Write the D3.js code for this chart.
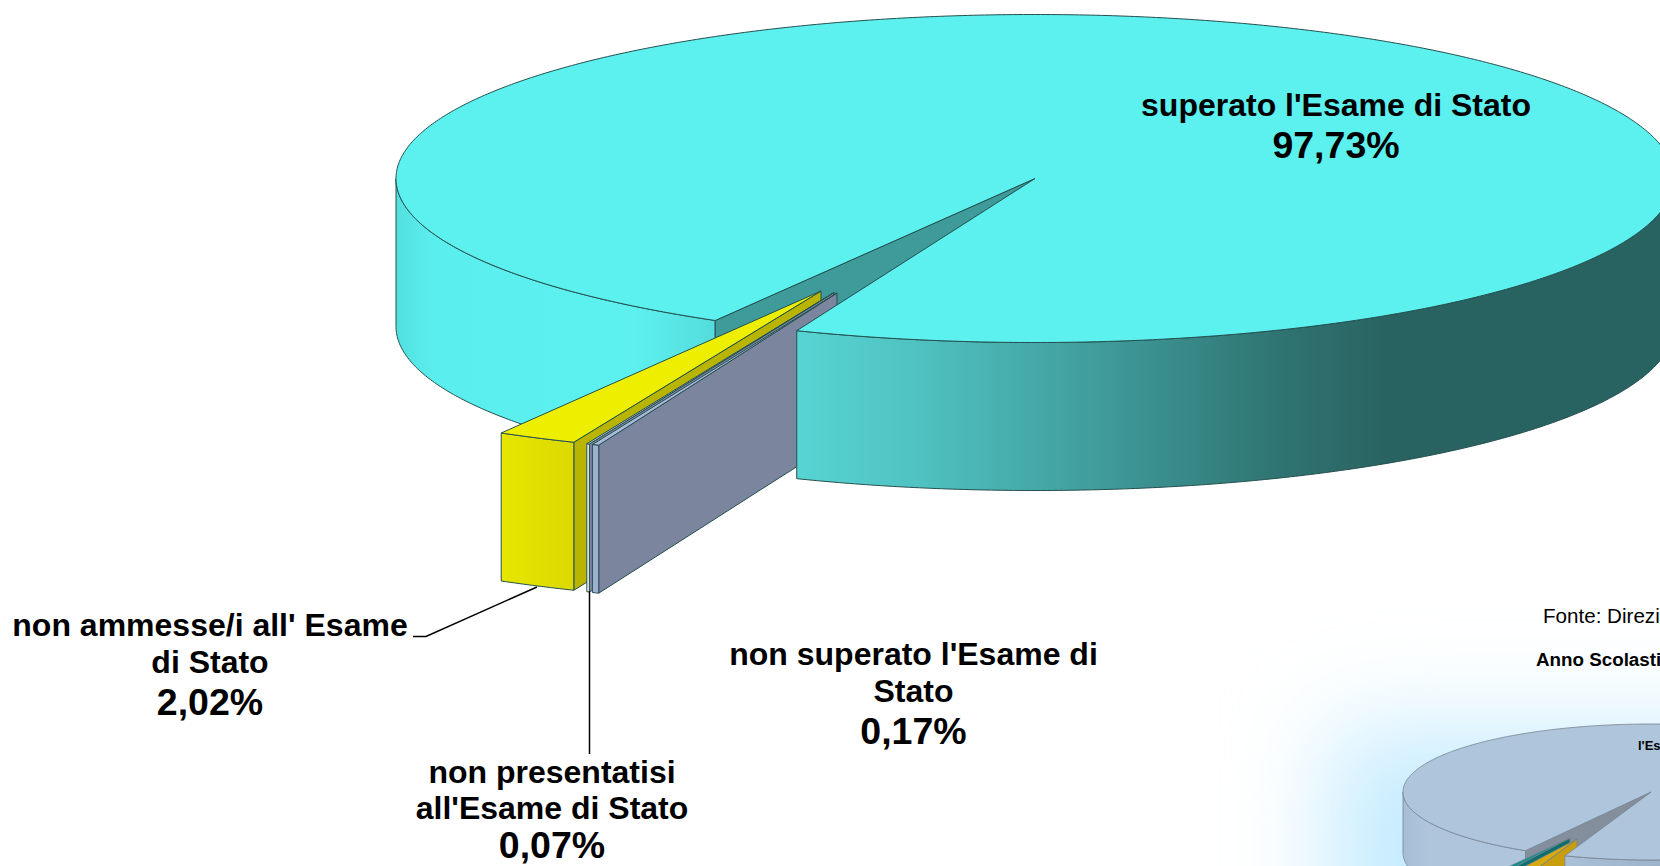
<!DOCTYPE html>
<html>
<head>
<meta charset="utf-8">
<script src="https://d3js.org/d3.v7.min.js"></script>
<style>
    html, body { margin: 0; padding: 0; background: #fff; overflow: hidden; }
    text { font-family: "Liberation Sans", Arial, sans-serif; fill: #000; }
</style>
</head>
<body>
<div id="chart"></div>
<script>
// main pie, clockwise from the main slice
const categories = ["superato l'Esame di Stato", "non superato l'Esame di Stato", "non presentatisi all'Esame di Stato", "non ammesse/i all' Esame di Stato"];
const values = [97.73, 0.17, 0.07, 2.02];
const valueLabels = ["97,73%", "0,17%", "0,07%", "2,02%"];

// small pie cut off in the corner of the page (values estimated)
const insetCategories = ["l'Esame", "altri", "non ammesse"];
const insetValues = [97.2, 2.0, 0.8];

const width = 1660, height = 866;
const deg = Math.PI / 180;

const svg = d3.select("#chart").append("svg")
    .attr("width", width)
    .attr("height", height)
    .style("display", "block");

const defs = svg.append("defs");

function addGradient(id, x1, x2, stops) {
    const g = defs.append("linearGradient")
        .attr("id", id)
        .attr("gradientUnits", "userSpaceOnUse")
        .attr("x1", x1).attr("x2", x2)
        .attr("y1", 0).attr("y2", 0);
    stops.forEach(s => g.append("stop").attr("offset", s[0]).attr("stop-color", s[1]));
}

addGradient("mainLeft", 396, 715, [[0, "#52e0df"], [0.12, "#5beeee"], [0.75, "#5cf0ef"], [1, "#55dcdc"]]);
addGradient("mainRight", 797, 1400, [[0, "#56d4d3"], [0.2, "#4fc2c1"], [0.5, "#3f9c9b"], [0.8, "#2f7472"], [0.98, "#296361"], [1, "#296361"]]);
addGradient("yellowFront", 501, 574, [[0, "#e6e600"], [1, "#dbd900"]]);
addGradient("insetLeft", 1403, 1527, [[0, "#a6bdd5"], [0.2, "#aec5dc"], [1, "#aec5dc"]]);
addGradient("insetRight", 1565, 1660, [[0, "#a9c0d7"], [1, "#9db3c9"]]);

// soft blue glow behind the small pie
defs.append("filter")
    .attr("id", "glow")
    .attr("x", "-50%").attr("y", "-50%").attr("width", "200%").attr("height", "200%")
    .append("feGaussianBlur")
    .attr("stdDeviation", 50);

svg.append("rect")
    .attr("x", 1330).attr("y", 730)
    .attr("width", 500).attr("height", 300)
    .attr("fill", "#c4ebff")
    .attr("filter", "url(#glow)");

const line = d3.line();

// projects a pie angle onto the tilted ellipse
function rimPoint(p, a, off, drop) {
    return [
        p.cx + off[0] + p.rx * Math.sin(a),
        p.cy + off[1] - p.ry * Math.cos(a) + (drop || 0)
    ];
}

function rimPoints(p, a0, a1, off, drop) {
    const n = Math.max(2, Math.ceil(Math.abs(a1 - a0) / deg) * 2);
    return d3.range(n + 1).map(i => rimPoint(p, a0 + (a1 - a0) * i / n, off, drop));
}

function sectorPath(p, a0, a1, off) {
    return line([[p.cx + off[0], p.cy + off[1]]].concat(rimPoints(p, a0, a1, off))) + "Z";
}

function wallPath(p, a0, a1, off) {
    return line(rimPoints(p, a0, a1, off).concat(rimPoints(p, a1, a0, off, p.depth))) + "Z";
}

function cutPath(p, a, off) {
    const top = [p.cx + off[0], p.cy + off[1]];
    const rim = rimPoint(p, a, off);
    return line([top, rim, [rim[0], rim[1] + p.depth], [top[0], top[1] + p.depth]]) + "Z";
}

function drawPie(p) {
    const g = svg.append("g")
        .attr("stroke", p.stroke)
        .attr("stroke-width", p.strokeWidth)
        .attr("stroke-linejoin", "round");

    const arcs = d3.pie().sort(null)
        .startAngle(p.start * deg)
        .endAngle((p.start + 360) * deg)(p.values);

    const main = arcs[0];
    const noOffset = [0, 0];

    // back part of the main slice: left wall and the inside of the cut
    g.append("path").attr("d", wallPath(p, main.startAngle, 270 * deg, noOffset)).attr("fill", p.leftWall);
    g.append("path").attr("d", cutPath(p, main.startAngle, noOffset)).attr("fill", p.cutWall);

    // pulled out slices, the last one is the furthest back
    arcs.slice(1).reverse().forEach(d => {
        const i = d.index;
        const off = p.offsets[i];
        const c = p.colors[i];
        g.append("path").attr("d", cutPath(p, d.startAngle - 2 * Math.PI, off)).attr("fill", c.side);
        g.append("path").attr("d", wallPath(p, d.startAngle, d.endAngle, off)).attr("fill", c.front);
        g.append("path").attr("d", sectorPath(p, d.startAngle, d.endAngle, off)).attr("fill", c.top);
    });

    // front wall and top of the main slice go over everything
    g.append("path").attr("d", wallPath(p, 90 * deg, main.endAngle - 2 * Math.PI, noOffset)).attr("fill", p.rightWall);
    g.append("path").attr("d", sectorPath(p, main.startAngle, main.endAngle, noOffset)).attr("fill", p.top);
}

drawPie({
    values: values,
    cx: 1035, cy: 178.5, rx: 639, ry: 164, depth: 148,
    start: 210.03,
    stroke: "#24504f", strokeWidth: 1,
    top: "#5cf0ef",
    cutWall: "#3f9a9a",
    leftWall: "url(#mainLeft)",
    rightWall: "url(#mainRight)",
    offsets: [null, [-198, 114.5], [-201, 114], [-214, 112.5]],
    colors: [
        null,
        {top: "#a9b8d8", front: "#9fb0d3", side: "#7b869e"},
        {top: "#c5cfe6", front: "#eef1f7", side: "#7b869e"},
        {top: "#eeee00", front: "url(#yellowFront)", side: "#b8b400"}
    ]
});

drawPie({
    values: insetValues,
    cx: 1651, cy: 792, rx: 248, ry: 68, depth: 61,
    start: 210.4,
    stroke: "#76838f", strokeWidth: 0.8,
    top: "#aec5dc",
    cutWall: "#848f9e",
    leftWall: "url(#insetLeft)",
    rightWall: "url(#insetRight)",
    offsets: [null, [-74, 47], [-81, 46]],
    colors: [
        null,
        {top: "#d8a90f", front: "#d8a90f", side: "#c99e0e"},
        {top: "#0c8f8f", front: "#0c8f8f", side: "#0d6e6e"}
    ]
});

// leader lines
const leaders = svg.append("g")
    .attr("fill", "none")
    .attr("stroke", "#000")
    .attr("stroke-width", 1.5);
leaders.append("path").attr("d", line([[537, 587], [426, 636.5], [413, 636.5]]));
leaders.append("path").attr("d", line([[589.5, 591], [589.5, 754]]));

// labels: centre x, baselines for each line of the name and the value
function addLabel(lines, value, x, ys) {
    lines.forEach((t, i) => {
        svg.append("text")
            .attr("x", x).attr("y", ys[i])
            .attr("text-anchor", "middle")
            .attr("font-weight", "bold")
            .attr("font-size", 32)
            .text(t);
    });
    svg.append("text")
        .attr("x", x).attr("y", ys[lines.length])
        .attr("text-anchor", "middle")
        .attr("font-weight", "bold")
        .attr("font-size", 37.5)
        .text(value);
}

addLabel([categories[0]], valueLabels[0], 1336, [116, 158]);
addLabel(["non superato l'Esame di", "Stato"], valueLabels[1], 913.5, [665, 702, 744]);
addLabel(["non presentatisi", "all'Esame di Stato"], valueLabels[2], 552, [783, 819, 858]);
addLabel(["non ammesse/i all' Esame", "di Stato"], valueLabels[3], 210, [636, 673, 715]);

// text of the page behind, cut by the edge
svg.append("text").attr("x", 1543).attr("y", 623).attr("font-size", 20.6).text("Fonte: Direzi");
svg.append("text").attr("x", 1536).attr("y", 666).attr("font-size", 18.8).attr("font-weight", "bold").text("Anno Scolasti");
svg.append("text").attr("x", 1638).attr("y", 750).attr("font-size", 13).attr("font-weight", "bold").text("l'Es");
</script>
</body>
</html>
